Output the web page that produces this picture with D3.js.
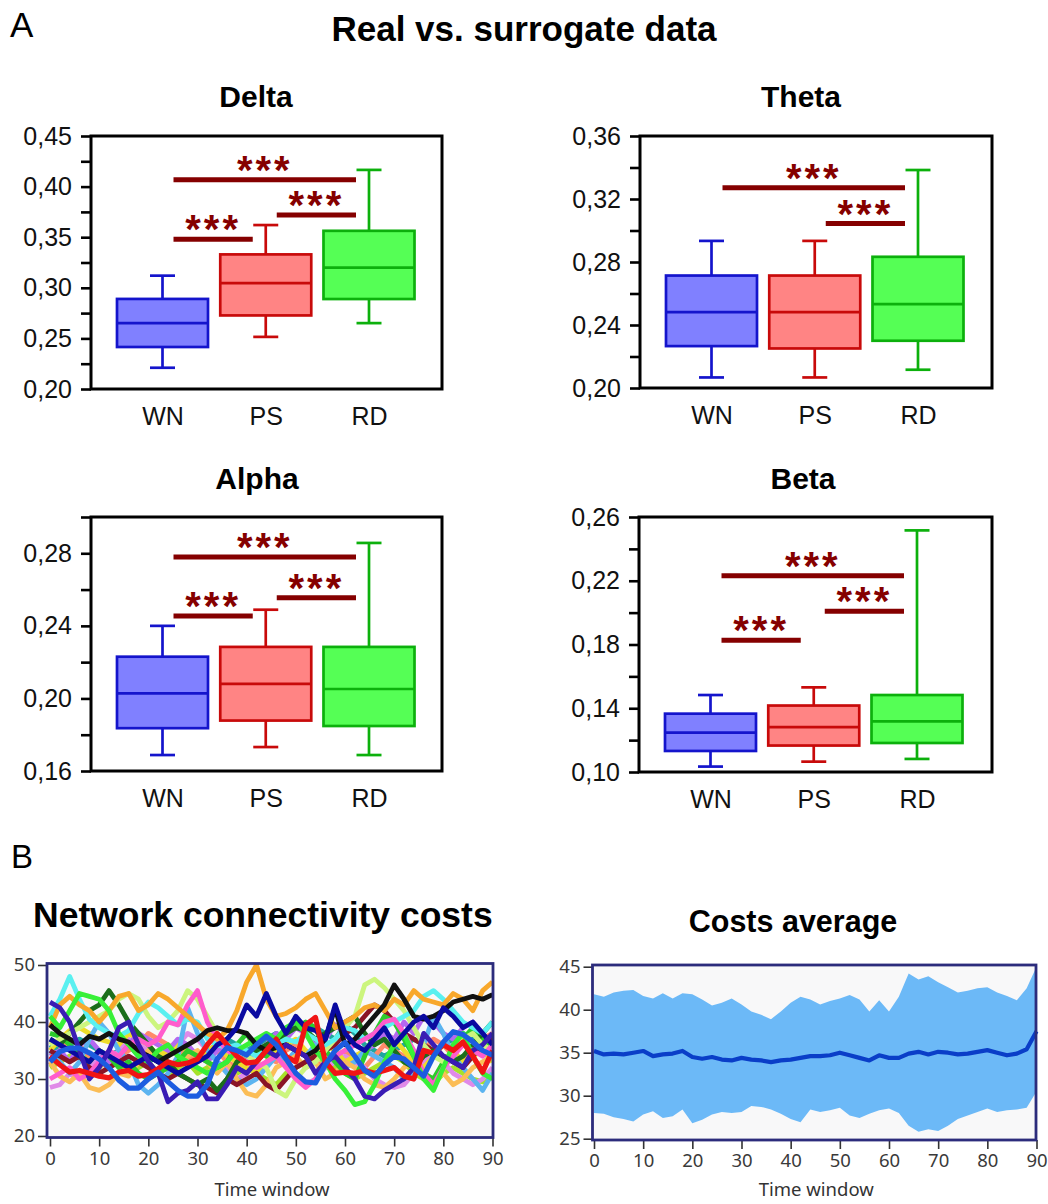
<!DOCTYPE html>
<html>
<head>
<meta charset="utf-8">
<script src="https://cdn.jsdelivr.net/npm/d3@7"></script>
<style>
  body { margin: 0; background: #fff; }
  svg { display: block; }
</style>
</head>
<body>
<svg id="fig" width="1048" height="1204"></svg>
<script>
// ---------- Panel A: box plots (WN = white noise, PS = phase shuffled, RD = real data) ----------
const categories = ["WN", "PS", "RD"];

// five-number summaries per group: [lower whisker, Q1, median, Q3, upper whisker]
const deltaStats = [[0.221, 0.2415, 0.265, 0.289, 0.312], [0.2515, 0.2727, 0.3046, 0.333, 0.362], [0.2651, 0.2889, 0.320, 0.3563, 0.4165]];
const thetaStats = [[0.2067, 0.2266, 0.2482, 0.2714, 0.2934], [0.2067, 0.2251, 0.2482, 0.2714, 0.2934], [0.2116, 0.2300, 0.2533, 0.2833, 0.3384]];
const alphaStats = [[0.1688, 0.1836, 0.2028, 0.2230, 0.2400], [0.1732, 0.1878, 0.2080, 0.2284, 0.2489], [0.1688, 0.1848, 0.2052, 0.2284, 0.2857]];
const betaStats  = [[0.1034, 0.1132, 0.1247, 0.1366, 0.1483], [0.1065, 0.1166, 0.1282, 0.1417, 0.1531], [0.1082, 0.1182, 0.1318, 0.1483, 0.2516]];

// significance brackets: [from group, to group, height]
const deltaSig = [[0, 2, 0.4068], [1, 2, 0.372], [0, 1, 0.348]];
const thetaSig = [[0, 2, 0.3272], [1, 2, 0.3044]];
const alphaSig = [[0, 2, 0.2779], [1, 2, 0.2555], [0, 1, 0.2454]];
const betaSig  = [[0, 2, 0.2232], [1, 2, 0.2008], [0, 1, 0.1826]];

// axis ticks
const deltaMajor = [0.20, 0.25, 0.30, 0.35, 0.40, 0.45];
const deltaMinor = [0.225, 0.275, 0.325, 0.375, 0.425];
const thetaMajor = [0.20, 0.24, 0.28, 0.32, 0.36];
const thetaMinor = [0.22, 0.26, 0.30, 0.34];
const alphaMajor = [0.16, 0.20, 0.24, 0.28];
const alphaMinor = [0.18, 0.22, 0.26, 0.30];
const betaMajor  = [0.10, 0.14, 0.18, 0.22, 0.26];
const betaMinor  = [0.12, 0.16, 0.20, 0.24];

// ---------- Panel B: network connectivity costs over 46 time windows ----------
const timeWindows = d3.range(0, 91, 2);

const costChartreuse = [32,33,34,35,33,32,34,33,31,32,33,31,30,32,33,31,32,33,31.5,31,32,31,30,29,31,32,33,34,33,32,31,30,31,32,33,34,33,31,30,29,31,32,31,30,29.5,31];
const costTeal = [36,35,36,37,36,35,34,35,36,34,33,34,35,36,35,34,35,36,37,36,35,36,37,38,37,36,38,39,38,37,39.5,38,36,35,34,35,36,37,36,35,36,37,38,37,36,37];
const costSalmon = [33,35,37,36,34,33,32,34,35,36,38,37,36,35,34,33,34,35,33,32,34,35,34,33,35,36,34,33,32,34,35,33,32,34,36,35,34,33,35,37,36,34,33,35,37,38];
const costPlum = [28.5,29,31,30,32,34,33,35,37,36,35,33,34,36,38,37,35,33,32,30,31,33,35,34,33,31,29,30,32,33,34,33,32,30,29,28.5,29,31,33,35,33,31,30,29,30,32];
const costYellow = [35,37,38.5,39,38,37,36.5,36,38,37,36,34,35,36,35,34,35,36,34,33,32,31,33,35,36,37,35,34,36,35,33,34,35,37,38,37,35,33,32,34,36,35,33,34,35,33];
const costViolet = [34,35,33,36,37,35,33,34,36,38,37,36,35,37,36,34,33,35,36,34,33,35,36,38,37,39,38,36,37,39.5,38,36,35,36,38,37,40,38,41,40,38,37,39,40,38,36];
const costSky = [35,33,31,33,37,40,38,35,33,29,27.5,29,31,34,42.5,38,35,33,31,30,29,30,32,34,33,35,34,36,35,33,32,33,35,34,33,32,30,31,36,41,38,34,32,30,28,31];
const costLightOrange = [33,30.5,29.5,31,28.5,28,29,31,30.5,33,35,34,32,33,34,35,33,31,33,30,27.5,27,29,32,33,34,32,33,30,31,33,32,30,29,28.5,30,32,33,31,30,31,29,30,32,33,34];
const costMaroon = [35,34,33,34,32,31,32,33,34,33,32,31,30,31,30,29,28.5,27.5,30,29,30,31,29,28,30,32,33,34,35,36,38,39,41,43,42,40,38,37,36,35,34,33,32,34,36,37];
const costGreen = [38,37.5,36,34,33,35,34,32,33,31,30,31,32,33,35,34,33,32,33,36,38,35,34,36,38,39,40,39,35,33,31,30,34,38,41,40,37,34,31,30,33,35,37,39,37,35];
const costDarkGreen = [37,36,38,40,42,43,45.5,43,40,38,36,34,33,31,30,29,30,28,30,33,34,35,36,37,38,39,38.5,37,38,39,40,41,38,36,37,35,33,32,34,35,34,33,34,36,38,40];
const costYellowGreen = [36,37,38,39,40,41,42,44,45,44,41,39,40,42,45.5,44,41,38,36,35,34,33,32,28,27,30,32,33,35,37,39,41,46.5,47.5,46,44,42,39,36,34,33,35,37,38,36,35];
const costCyan = [41,44,48,44,40.5,39,38,37.5,38.5,41.5,43.5,42.5,41,39.5,40.5,40,37,36,35.5,36,35,34,35,36,37,36.5,38,37,36,37,39,38.5,37,38,39,40,41,42,44.5,45.5,44,42,40,39,38,40];
const costMagenta = [30,31,32,30,31,33,35,34,36,37,36,37,40,39.5,43,45.5,40,37,35,34,33,32,33,34,32,30,28.5,30,33,34,35,36,37,38,40,40.5,38,35,31,29,32,34,36,35,34,36];
const costOrange = [39,43,44.5,43,42,40,42,44.5,45,42,43,45,44,42.5,41,39.5,38,37,38.5,42,47,50,44,41,41.5,42.5,44,45,42,39,40,41,42.5,43,42,44,43,45.5,44,43.5,43,45,44,42,45.5,47];
const costLime = [41,39,42,45,44.5,44,42,38,36,34,33,35,36,34,33,32,31,32,33,35,36,37,38,37,39,40,38,35,33,30,28,25.5,26,29,33,36,38,34,30,28,32,36,38,34,31,30];
const costBlack = [39.5,38,37,36,37.5,37,38,37,36.5,35,34,33,34,35,36,37,38.5,39,38.5,38.5,38,36,35,35.5,36,35,34,35,37,42.5,36,37,39,41,43,46.5,44,41,40.5,41,42,43.5,44,44.5,44,44.8];
const costNavy = [37,36,35,34,33,35,34,33,32,33,34,33,32,31,32,33,34,36,37,39,43,41,45,41,38,41,39,38.5,37,43,38,36,35,37,39,36,38,40,41,39,42.5,41,39,40,38,36];
const costIndigo = [43.5,42.5,40,35,30,32,35,39,40,36,33,31,26,27.5,28,29.5,26.5,26.5,29,32,31,33,35,34,36,35,34,31,33,34,32,30,27,26.5,28,29,30,32,38,36,34,33,32,35,36,38];
const costRed = [34,32.5,31.2,31.5,31,30.5,30.2,31.2,31.5,30.5,30.8,31.8,33,32.5,32.8,33.5,36,38,36,34,32.8,33,35,37,34,33,39.5,40.8,33,31,31.2,31,31.5,31,31.5,32,30.5,30,35,34.5,36,35,36.5,34,31.2,35];
const costBlue = [33,34.8,35.4,35.4,34.6,33.5,32,29.8,28.4,28.4,30,31.2,29.5,28,27,27,29,33.5,35.5,35,34.2,36,37.5,36,33.5,31,29.5,29.3,32.5,35,36.4,34,31.5,30.5,32.5,34,33.5,32,30.5,34,36.5,38.3,37.8,36.5,35,34.2];

// average cost with its spread band
const avgUpper = [41.8,41.5,42,42.2,42.3,41.6,41.3,41.9,41.3,41.9,41.8,41.2,40.5,40.8,41.3,40.6,39.8,39.4,38.9,39.8,40.8,41.5,41.2,40.6,41,41.3,41.7,41.2,39.8,41.1,39.8,41.5,44.2,43.5,43.9,43.2,42.6,42,42.2,42.5,42.6,42,41.6,41.1,42.5,45];
const avgLower = [28,27.9,27.5,27.3,27,27.8,28.2,27.4,27.6,28.4,26.8,27.2,27.8,28.1,28,28.1,28.8,28.7,28.4,27.9,27.3,26.9,28.4,28.1,28.3,28.6,27.7,27.4,27.9,28.3,28.5,28,26.5,25.8,26.1,25.9,26.5,27.3,27.7,28.1,28.5,28.1,28.3,28.4,28.6,30.5];
const avgMean = [35.2,34.8,34.9,34.8,35,35.2,34.6,34.8,34.9,35.2,34.5,34.3,34.5,34.2,34.1,34.4,34.2,34.1,33.9,34.1,34.2,34.4,34.6,34.6,34.7,35,34.7,34.4,34.1,34.7,34.4,34.4,34.9,35.1,34.8,35.1,35,34.8,34.9,35.1,35.3,35,34.7,34.9,35.4,37.5];

const costTicksX = d3.range(0, 91, 10);
const costTicksY = [20, 30, 40, 50];
const avgTicksY = [25, 30, 35, 40, 45];

// ---------- drawing ----------
const svg = d3.select("#fig");
svg.append("rect").attr("width", 1048).attr("height", 1204).attr("fill", "#fff");

const SANS = "'Liberation Sans', Arial, sans-serif";
const UI = "'Noto Sans', 'Open Sans', sans-serif";
const SIG = "#850000";

const fill = { WN: "#8080ff", PS: "#ff8484", RD: "#55ff55" };
const edge = { WN: "#1414cc", PS: "#c80a0a", RD: "#0cb00c" };

const commaFmt = d3.formatLocale({ decimal: ",", thousands: ".", grouping: [3], currency: ["", ""] }).format(".2f");

// headings
svg.append("text").attr("x", 10).attr("y", 37).attr("font-family", SANS).attr("font-size", 35).text("A");
svg.append("text").attr("x", 524).attr("y", 41).attr("text-anchor", "middle").attr("font-family", SANS)
  .attr("font-weight", "bold").attr("font-size", 35).text("Real vs. surrogate data");
svg.append("text").attr("x", 11).attr("y", 868).attr("font-family", SANS).attr("font-size", 33).text("B");

function boxPanel(p) {
  const g = svg.append("g");
  const bottom = p.top + p.height;
  const y = d3.scaleLinear().domain(p.domain).range([bottom, p.top]);
  const x = d3.scalePoint().domain(categories).range([p.left + 71.5, p.left + 278]);
  const isMajor = d => p.major.some(m => Math.abs(m - d) < 1e-9);

  g.append("text").attr("x", p.left + p.titleDx).attr("y", p.titleY).attr("text-anchor", "middle")
    .attr("font-family", SANS).attr("font-weight", "bold").attr("font-size", 30).text(p.title);

  // y axis ticks outside the frame
  const ay = g.append("g").attr("transform", `translate(${p.left},0)`)
    .call(d3.axisLeft(y).tickValues(p.major.concat(p.minor)).tickSize(10).tickPadding(9)
      .tickFormat(d => isMajor(d) ? commaFmt(d) : ""));
  ay.select(".domain").remove();
  ay.selectAll(".tick line").attr("stroke", "#000").attr("stroke-width", 2.6);
  ay.selectAll(".tick text").attr("font-family", SANS).attr("font-size", 25).attr("fill", "#111");

  // category labels
  const ax = g.append("g").attr("transform", `translate(0,${bottom})`)
    .call(d3.axisBottom(x).tickSize(0).tickPadding(18));
  ax.select(".domain").remove();
  ax.selectAll(".tick text").attr("font-family", SANS).attr("font-size", 25).attr("fill", "#111");

  // boxes
  const boxW = 91, capW = 25;
  categories.forEach((c, i) => {
    const [lo, q1, med, q3, hi] = p.stats[i];
    const cx = x(c);
    const bg = g.append("g").attr("stroke", edge[c]).attr("stroke-width", 2.7);
    bg.append("line").attr("x1", cx).attr("x2", cx).attr("y1", y(hi)).attr("y2", y(q3));
    bg.append("line").attr("x1", cx).attr("x2", cx).attr("y1", y(q1)).attr("y2", y(lo));
    bg.append("line").attr("x1", cx - capW / 2).attr("x2", cx + capW / 2).attr("y1", y(hi)).attr("y2", y(hi));
    bg.append("line").attr("x1", cx - capW / 2).attr("x2", cx + capW / 2).attr("y1", y(lo)).attr("y2", y(lo));
    bg.append("rect").attr("x", cx - boxW / 2).attr("y", y(q3)).attr("width", boxW)
      .attr("height", y(q1) - y(q3)).attr("fill", fill[c]);
    bg.append("line").attr("x1", cx - boxW / 2).attr("x2", cx + boxW / 2).attr("y1", y(med)).attr("y2", y(med));
  });

  // significance bars
  p.sig.forEach(([a, b, lvl]) => {
    const x1 = x(categories[a]) + 11, x2 = x(categories[b]) - 13;
    g.append("line").attr("x1", x1).attr("x2", x2).attr("y1", y(lvl)).attr("y2", y(lvl))
      .attr("stroke", SIG).attr("stroke-width", 5);
    g.append("text").attr("x", (x1 + x2) / 2).attr("y", y(lvl) + 4).attr("text-anchor", "middle")
      .attr("font-family", SANS).attr("font-weight", "bold").attr("font-size", 40)
      .attr("letter-spacing", 3).attr("fill", SIG).text("***");
  });

  // frame
  g.append("rect").attr("x", p.left).attr("y", p.top).attr("width", p.width).attr("height", p.height)
    .attr("fill", "none").attr("stroke", "#000").attr("stroke-width", 3);
}

boxPanel({ title: "Delta", titleY: 107, titleDx: 165, left: 91, top: 136, width: 351, height: 253, domain: [0.20, 0.45],
  major: deltaMajor, minor: deltaMinor, stats: deltaStats, sig: deltaSig });
boxPanel({ title: "Theta", titleY: 107, titleDx: 161, left: 640, top: 136, width: 352, height: 252, domain: [0.20, 0.36],
  major: thetaMajor, minor: thetaMinor, stats: thetaStats, sig: thetaSig });
boxPanel({ title: "Alpha", titleY: 489, titleDx: 166, left: 91, top: 517, width: 351, height: 254, domain: [0.16, 0.30],
  major: alphaMajor, minor: alphaMinor, stats: alphaStats, sig: alphaSig });
boxPanel({ title: "Beta", titleY: 489, titleDx: 164, left: 639, top: 517, width: 353, height: 255, domain: [0.10, 0.26],
  major: betaMajor, minor: betaMinor, stats: betaStats, sig: betaSig });

// ---------- panel B ----------
function frameAxes(g, box, x, y, xt, yt) {
  g.append("rect").attr("x", box.x).attr("y", box.y).attr("width", box.w).attr("height", box.h)
    .attr("fill", "#f8f8f9");
  const ay = g.append("g").attr("transform", `translate(${box.x},0)`)
    .call(d3.axisLeft(y).tickValues(yt).tickSize(9).tickPadding(3));
  const ax = g.append("g").attr("transform", `translate(0,${box.y + box.h})`)
    .call(d3.axisBottom(x).tickValues(xt).tickSize(9).tickPadding(5));
  [ay, ax].forEach(a => {
    a.select(".domain").remove();
    a.selectAll(".tick line").attr("stroke", "#333").attr("stroke-width", 1.6);
    a.selectAll(".tick text").attr("font-family", UI).attr("font-size", 18.5).attr("fill", "#3a3a3a");
  });
  g.append("text").attr("x", box.x + box.w / 2 + 2).attr("y", 1196).attr("text-anchor", "middle")
    .attr("font-family", UI).attr("font-size", 18.5).attr("fill", "#333").text("Time window");
}
function frameBorder(g, box) {
  g.append("rect").attr("x", box.x).attr("y", box.y).attr("width", box.w).attr("height", box.h)
    .attr("fill", "none").attr("stroke", "#2c2c7c").attr("stroke-width", 2.8);
}

// left: individual costs
{
  const box = { x: 47, y: 963.5, w: 446, h: 174 };
  const g = svg.append("g");
  svg.append("text").attr("x", 33).attr("y", 927).attr("font-family", SANS).attr("font-weight", "bold")
    .attr("font-size", 35.5).text("Network connectivity costs");
  const x = d3.scaleLinear().domain([0, 90]).range([50, 492.5]);
  const y = d3.scaleLinear().domain([20, 50]).range([1136, 965]);
  frameAxes(g, box, x, y, costTicksX, costTicksY);

  const series = [
    [costChartreuse, "#a6e22a"], [costTeal, "#1fa5a0"], [costSalmon, "#ff8a6a"], [costPlum, "#e08ae8"],
    [costYellow, "#eedc2a"], [costViolet, "#b468f0"], [costSky, "#5cb4f0"], [costLightOrange, "#fbbd56"],
    [costMaroon, "#8a1426"], [costGreen, "#2ccc2c"], [costDarkGreen, "#1b6e1b"], [costYellowGreen, "#ccf57e"],
    [costCyan, "#5af0f0"], [costMagenta, "#ff5ccc"], [costOrange, "#f8a82c"], [costLime, "#38f038"],
    [costBlack, "#111111"], [costNavy, "#0a0aa0"], [costIndigo, "#3a1cb4"], [costRed, "#f01414"], [costBlue, "#1c5ce0"]
  ];
  svg.append("clipPath").attr("id", "costClip").append("rect")
    .attr("x", box.x).attr("y", box.y).attr("width", box.w).attr("height", box.h);
  const line = d3.line().x((d, i) => x(timeWindows[i])).y(d => y(d));
  const lg = g.append("g").attr("clip-path", "url(#costClip)");
  series.forEach(([vals, col], k) => {
    lg.append("path").attr("d", line(vals)).attr("fill", "none").attr("stroke", col)
      .attr("stroke-width", k >= 19 ? 5.2 : 4.8).attr("stroke-linejoin", "round");
  });
  frameBorder(g, box);
}

// right: average with band
{
  const box = { x: 592.5, y: 965, w: 443.5, h: 175 };
  const g = svg.append("g");
  svg.append("text").attr("x", 793).attr("y", 932).attr("text-anchor", "middle").attr("font-family", SANS)
    .attr("font-weight", "bold").attr("font-size", 30.5).text("Costs average");
  const x = d3.scaleLinear().domain([0, 90]).range([594, 1036.5]);
  const y = d3.scaleLinear().domain([25, 45]).range([1138.7, 966.7]);
  frameAxes(g, box, x, y, costTicksX, avgTicksY);

  const area = d3.area().x((d, i) => x(timeWindows[i])).y0((d, i) => y(avgLower[i])).y1(d => y(d));
  g.append("path").attr("d", area(avgUpper)).attr("fill", "#6cb9f7");
  const line = d3.line().x((d, i) => x(timeWindows[i])).y(d => y(d));
  g.append("path").attr("d", line(avgMean)).attr("fill", "none").attr("stroke", "#0a3ec8")
    .attr("stroke-width", 4.2).attr("stroke-linejoin", "round");
  frameBorder(g, box);
}
</script>
</body>
</html>
